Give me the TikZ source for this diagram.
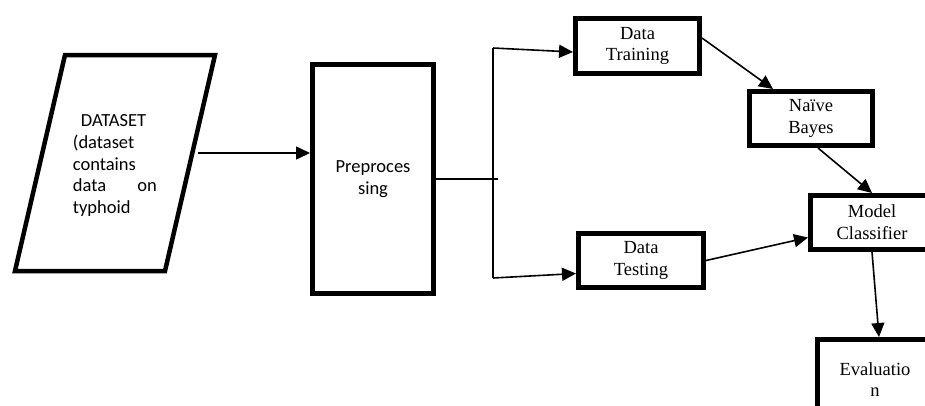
\documentclass[tikz,border=0pt]{standalone}
\usepackage{fontspec}
\setmainfont{Liberation Serif}
\setsansfont{Carlito}
\usetikzlibrary{arrows.meta}
\begin{document}
\begin{tikzpicture}[x=1pt,y=-1pt,
  box/.style={draw, line width=5pt, inner sep=0pt, align=center,
    font=\fontsize{18.5}{21.7}\selectfont},
  sbox/.style={box, font=\sffamily\fontsize{18.5}{21.7}\selectfont},
  conn/.style={line width=1.6pt, -{Triangle[length=14pt,width=13pt]}},
  plain/.style={line width=1.6pt}]
\useasboundingbox (0,0) rectangle (925,405);
\clip (0,0) rectangle (925,405);

% dataset parallelogram
\draw[line width=4.5pt, line join=miter] (65,55) -- (215,55) -- (165,271) -- (15,271) -- cycle;
\node[anchor=base west, inner sep=0pt, font=\sffamily\fontsize{18.5}{21.7}\selectfont]
  (ds) at (72.7,126.7) {\parbox[t]{84pt}{\hspace*{8pt}DATASET\\(dataset\\contains\\data\hfill on\\typhoid}};
\coordinate (dsr) at (198,153);

% boxes
\node[sbox, minimum width=121pt, minimum height=229pt] (pre) at (373,179) {Preproces\\sing};
\node[box, minimum width=124pt, minimum height=55pt] (dtrain) at (637.5,46) {Data\\Training};
\node[box, minimum width=123pt, minimum height=54pt] (nb) at (811,118.5) {Naïve\\Bayes};
\node[box, minimum width=125pt, minimum height=54pt] (dtest) at (641,260.5) {Data\\Testing};
\node[box, minimum width=123pt, minimum height=54pt] (mc) at (872,222.5) {Model\\Classifier};
\node[box, minimum width=123pt, minimum height=80pt] (ev) at (879,379.5) {\hspace*{-8pt}Evaluatio\\\hspace*{-8pt}n};

% split
\coordinate (j) at (498,179);
\coordinate (jt) at (493,48);
\coordinate (jb) at (493,278);

\draw[conn] (dsr) -- ([yshift=26pt]pre.west);
\draw[plain] (pre.east) -- (j);
\draw[plain] (jt) -- (jb);
\draw[conn] (jt) -- ([yshift=-6pt]dtrain.west);
\draw[conn] (jb) -- ([yshift=-13pt]dtest.west);
\draw[conn] ([yshift=8pt]dtrain.east) -- ([xshift=-38pt]nb.north);
\draw[conn] ([xshift=7pt]nb.south) -- (mc.north);
\draw[conn] (dtest.east) -- ([yshift=-15pt]mc.west);
\draw[conn] (mc.south) -- (ev.north);
\end{tikzpicture}
\end{document}
